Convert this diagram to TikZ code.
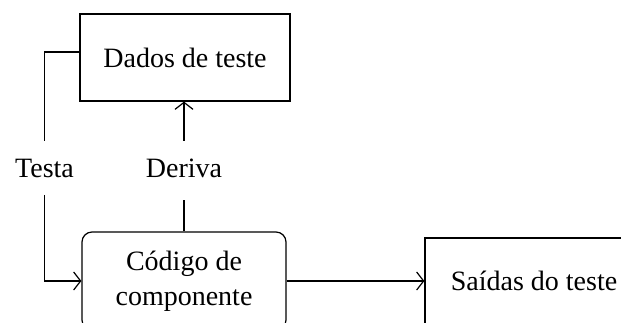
\documentclass[tikz,border=0pt]{standalone}
\usepackage{fontspec}
\setmainfont{Liberation Serif}
\usetikzlibrary{arrows.meta}

\tikzset{
  caixa/.style={draw, line width=1.2pt, minimum width=210pt, minimum height=87pt, align=center},
  seta/.style={-{Straight Barb[length=7pt,width=18pt]}},
  rotulo/.style={inner xsep=0pt, inner ysep=17pt}
}

\begin{document}
\begin{tikzpicture}[x=1pt,y=-1pt,font=\fontsize{28}{35}\selectfont,line width=1.2pt]

  \useasboundingbox (0,0) rectangle (621,322);
  \clip (0,0) rectangle (621,322);

  % caixas
  \node[caixa] (dados) at (185,57.5) {Dados de teste};
  \node[caixa, rounded corners=10pt, minimum width=204pt, minimum height=98pt] (codigo) at (184,281) {Código de\\componente};
  \node[caixa, minimum width=218pt, minimum height=86pt] (saidas) at (534,281) {Saídas do teste};

  % rotulos
  \node[rotulo] (testa) at (44.5,168) {Testa};
  \node[rotulo] (deriva) at (184,168) {Deriva};

  % ligacoes
  \draw ([yshift=5.5pt]dados.west) -| (testa.north);
  \draw[seta] (testa.south) |- (codigo.west);
  \draw[seta] (deriva.north) -- (deriva.north |- dados.south);
  \draw (codigo.north) -- ([yshift=-5pt]deriva.south);
  \draw[seta] (codigo.east) -- (saidas.west);

\end{tikzpicture}
\end{document}
